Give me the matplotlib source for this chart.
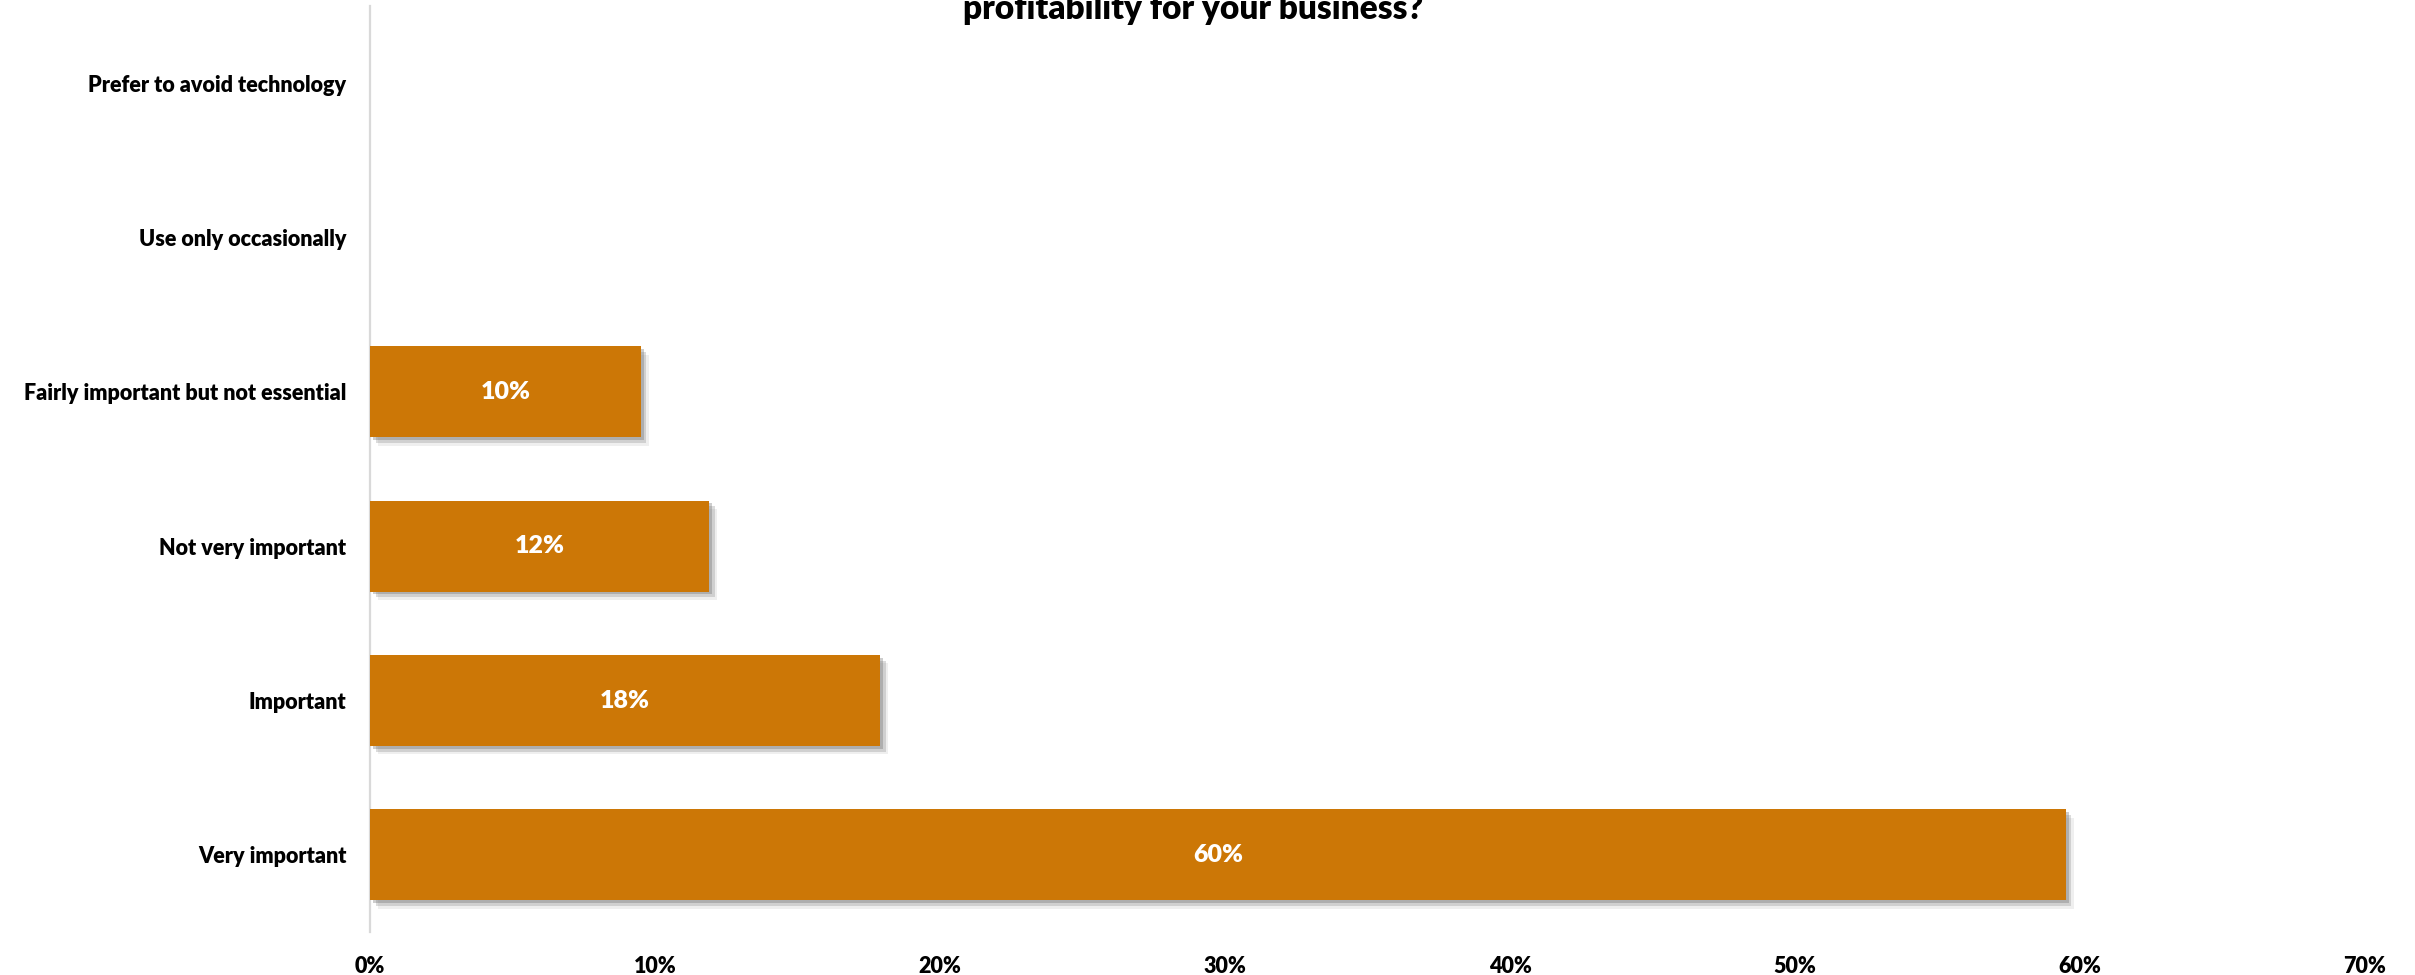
import matplotlib
matplotlib.use("Agg")
import matplotlib.pyplot as plt
import matplotlib.patheffects as pe
from matplotlib.ticker import FuncFormatter, MultipleLocator

# Survey responses, listed bottom to top
categories = [
    "Very important",
    "Important",
    "Not very important",
    "Fairly important but not essential",
    "Use only occasionally",
    "Prefer to avoid technology",
]
shares = [59.5, 17.9, 11.9, 9.5, 0.0, 0.0]  # percent of respondents

title_tail = "profitability for your business?"
bar_color = "#CC7706"

plt.rcParams["font.family"] = ["Lato", "DejaVu Sans"]

fig = plt.figure(figsize=(24.15, 9.75), dpi=100)
ax = fig.add_axes([0.1532, 0.0441, 0.8261, 0.9497])

ypos = list(range(len(categories)))
shadow = [
    pe.SimplePatchShadow(offset=(6, -6), shadow_rgbFace="#b0b0b0", alpha=0.2),
    pe.SimplePatchShadow(offset=(4, -4), shadow_rgbFace="#8a8a8a", alpha=0.3),
    pe.SimplePatchShadow(offset=(2, -2), shadow_rgbFace="#707070", alpha=0.35),
    pe.Normal(),
]
bars = ax.barh(ypos, shares, height=0.59, color=bar_color, zorder=3)
for b, v in zip(bars, shares):
    if v > 0:
        b.set_path_effects(shadow)
        ax.text(v / 2, b.get_y() + b.get_height() / 2, f"{v:.0f}%",
                ha="center", va="center", color="white",
                fontsize=18, fontweight="heavy", zorder=4)

ax.set_xlim(0, 70)
ax.set_ylim(-0.5, len(categories) - 0.5)
ax.xaxis.set_major_locator(MultipleLocator(10))
ax.xaxis.set_major_formatter(FuncFormatter(lambda x, _: f"{x:.0f}%"))
ax.set_yticks(ypos)
ax.set_yticklabels(categories)

for s in ("top", "right", "bottom"):
    ax.spines[s].set_visible(False)
ax.spines["left"].set_color("#D9D9D9")
ax.spines["left"].set_linewidth(1.6)

ax.tick_params(axis="x", length=0, pad=17, labelsize=15.5)
ax.tick_params(axis="y", length=0, pad=17, labelsize=15.5)
for lab in ax.get_xticklabels() + ax.get_yticklabels():
    lab.set_fontweight("heavy")

fig.text(0.494, 0.9805, title_tail, ha="center", va="baseline",
         fontsize=24, fontweight="heavy")

fig.savefig("out.png", dpi=100, facecolor="white")
